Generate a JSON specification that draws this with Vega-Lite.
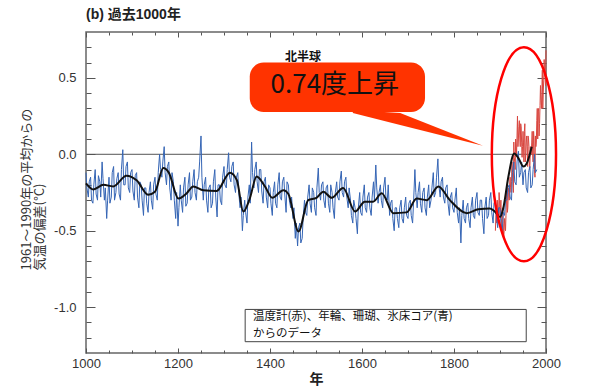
{
  "$schema": "https://vega.github.io/schema/vega-lite/v6.json",
  "width": 460,
  "height": 321,
  "autosize": {"type": "none"},
  "padding": {"left": 86, "top": 32, "right": 54, "bottom": 37},
  "title": {"text": "(b) 過去1000年", "anchor": "start", "frame": "group", "offset": 10, "fontSize": 14, "fontWeight": "bold", "font": "Liberation Sans, Noto Sans CJK JP", "color": "#222"},
  "config": {
    "view": {"stroke": "#666", "strokeWidth": 1.5},
    "axis": {"labelFont": "Liberation Sans, Noto Sans CJK JP", "labelFontSize": 13, "labelColor": "#333", "labelFlush": false, "tickColor": "#555", "tickWidth": 1, "domain": false, "grid": false, "titleFont": "Noto Sans CJK JP", "titleColor": "#333"}
  },
  "datasets": {
    "blue": [
      {"year":1000,"v":-0.12},{"year":1005,"v":-0.28},{"year":1010,"v":-0.15},{"year":1015,"v":-0.32},{"year":1020,"v":-0.10},{"year":1025,"v":-0.30},{"year":1030,"v":-0.18},{"year":1035,"v":-0.05},{"year":1040,"v":-0.30},{"year":1045,"v":-0.42},
      {"year":1050,"v":-0.15},{"year":1055,"v":-0.28},{"year":1060,"v":-0.08},{"year":1065,"v":-0.25},{"year":1070,"v":-0.12},{"year":1075,"v":-0.30},{"year":1080,"v":0.03},{"year":1085,"v":-0.20},{"year":1090,"v":-0.05},{"year":1095,"v":-0.25},
      {"year":1100,"v":-0.10},{"year":1105,"v":-0.30},{"year":1110,"v":-0.12},{"year":1115,"v":-0.35},{"year":1120,"v":-0.20},{"year":1125,"v":-0.40},{"year":1130,"v":-0.22},{"year":1135,"v":-0.38},{"year":1140,"v":-0.18},{"year":1145,"v":-0.36},
      {"year":1150,"v":-0.15},{"year":1155,"v":-0.30},{"year":1160,"v":0.0},{"year":1165,"v":-0.15},{"year":1170,"v":0.05},{"year":1175,"v":-0.20},{"year":1180,"v":-0.05},{"year":1185,"v":-0.30},{"year":1190,"v":-0.18},{"year":1195,"v":-0.42},
      {"year":1200,"v":-0.47},{"year":1205,"v":-0.20},{"year":1210,"v":-0.38},{"year":1215,"v":-0.15},{"year":1220,"v":-0.32},{"year":1225,"v":-0.12},{"year":1230,"v":-0.28},{"year":1235,"v":-0.10},{"year":1240,"v":-0.30},{"year":1245,"v":-0.15},
      {"year":1250,"v":0.12},{"year":1255,"v":-0.30},{"year":1260,"v":-0.15},{"year":1265,"v":-0.38},{"year":1270,"v":-0.20},{"year":1275,"v":-0.32},{"year":1280,"v":-0.10},{"year":1285,"v":-0.41},{"year":1290,"v":-0.20},{"year":1295,"v":-0.33},
      {"year":1300,"v":-0.08},{"year":1305,"v":-0.22},{"year":1310,"v":0.01},{"year":1315,"v":-0.18},{"year":1320,"v":-0.05},{"year":1325,"v":-0.25},{"year":1330,"v":-0.12},{"year":1335,"v":-0.35},{"year":1340,"v":-0.50},{"year":1345,"v":-0.30},
      {"year":1350,"v":-0.45},{"year":1355,"v":-0.20},{"year":1360,"v":0.08},{"year":1365,"v":-0.22},{"year":1370,"v":-0.05},{"year":1375,"v":-0.25},{"year":1380,"v":-0.10},{"year":1385,"v":-0.32},{"year":1390,"v":-0.15},{"year":1395,"v":-0.35},
      {"year":1400,"v":-0.22},{"year":1405,"v":-0.40},{"year":1410,"v":-0.18},{"year":1415,"v":-0.35},{"year":1420,"v":-0.12},{"year":1425,"v":-0.30},{"year":1430,"v":-0.15},{"year":1435,"v":-0.38},{"year":1440,"v":-0.20},{"year":1445,"v":-0.35},
      {"year":1450,"v":-0.42},{"year":1455,"v":-0.55},{"year":1460,"v":-0.60},{"year":1465,"v":-0.45},{"year":1470,"v":-0.55},{"year":1475,"v":-0.30},{"year":1480,"v":-0.40},{"year":1485,"v":-0.20},{"year":1490,"v":-0.38},{"year":1495,"v":-0.25},
      {"year":1500,"v":-0.40},{"year":1505,"v":-0.09},{"year":1510,"v":-0.30},{"year":1515,"v":-0.18},{"year":1520,"v":-0.35},{"year":1525,"v":-0.20},{"year":1530,"v":-0.38},{"year":1535,"v":-0.25},{"year":1540,"v":-0.42},{"year":1545,"v":-0.18},
      {"year":1550,"v":-0.30},{"year":1555,"v":-0.11},{"year":1560,"v":-0.28},{"year":1565,"v":-0.15},{"year":1570,"v":-0.35},{"year":1575,"v":-0.30},{"year":1580,"v":-0.45},{"year":1585,"v":-0.35},{"year":1590,"v":-0.52},{"year":1595,"v":-0.25},
      {"year":1600,"v":-0.40},{"year":1605,"v":-0.20},{"year":1610,"v":-0.38},{"year":1615,"v":-0.25},{"year":1620,"v":-0.40},{"year":1625,"v":-0.18},{"year":1630,"v":-0.07},{"year":1635,"v":-0.32},{"year":1640,"v":-0.20},{"year":1645,"v":-0.35},
      {"year":1650,"v":-0.15},{"year":1655,"v":-0.30},{"year":1660,"v":-0.40},{"year":1665,"v":-0.30},{"year":1670,"v":-0.50},{"year":1675,"v":-0.35},{"year":1680,"v":-0.48},{"year":1685,"v":-0.30},{"year":1690,"v":-0.45},{"year":1695,"v":-0.28},
      {"year":1700,"v":-0.42},{"year":1705,"v":-0.30},{"year":1710,"v":-0.45},{"year":1715,"v":-0.10},{"year":1720,"v":-0.35},{"year":1725,"v":-0.18},{"year":1730,"v":-0.38},{"year":1735,"v":-0.22},{"year":1740,"v":-0.40},{"year":1745,"v":-0.20},
      {"year":1750,"v":-0.30},{"year":1755,"v":-0.12},{"year":1760,"v":-0.25},{"year":1765,"v":-0.03},{"year":1770,"v":-0.28},{"year":1775,"v":-0.15},{"year":1780,"v":-0.32},{"year":1785,"v":-0.20},{"year":1790,"v":-0.40},{"year":1795,"v":-0.25},
      {"year":1800,"v":-0.38},{"year":1805,"v":-0.22},{"year":1810,"v":-0.45},{"year":1815,"v":-0.58},{"year":1820,"v":-0.30},{"year":1825,"v":-0.45},{"year":1830,"v":-0.32},{"year":1835,"v":-0.48},{"year":1840,"v":-0.28},{"year":1845,"v":-0.42},
      {"year":1850,"v":-0.25},{"year":1855,"v":-0.40},{"year":1860,"v":-0.30},{"year":1865,"v":-0.52},{"year":1870,"v":-0.28},{"year":1875,"v":-0.40},{"year":1880,"v":-0.25},{"year":1885,"v":-0.45},{"year":1890,"v":-0.30},{"year":1895,"v":-0.48},
      {"year":1900,"v":-0.35},{"year":1905,"v":-0.50},{"year":1910,"v":-0.40},{"year":1915,"v":-0.30},{"year":1920,"v":-0.20},{"year":1925,"v":-0.30},{"year":1930,"v":-0.05},{"year":1935,"v":-0.20},{"year":1940,"v":0.02},{"year":1945,"v":-0.12},
      {"year":1950,"v":-0.20},{"year":1955,"v":-0.10},{"year":1960,"v":-0.25},{"year":1965,"v":-0.08},{"year":1970,"v":-0.20},{"year":1975,"v":0.0},{"year":1980,"v":-0.10},
      {"year":1002,"v":-0.22},{"year":1007,"v":-0.18},{"year":1012,"v":-0.30},{"year":1017,"v":-0.20},{"year":1022,"v":-0.26},{"year":1027,"v":-0.14},{"year":1032,"v":-0.28},{"year":1037,"v":-0.16},{"year":1042,"v":-0.22},{"year":1047,"v":-0.30},
      {"year":1052,"v":-0.32},{"year":1057,"v":-0.12},{"year":1062,"v":-0.30},{"year":1067,"v":-0.16},{"year":1072,"v":-0.26},{"year":1077,"v":-0.10},{"year":1082,"v":-0.20},{"year":1087,"v":-0.08},{"year":1092,"v":-0.22},{"year":1097,"v":-0.12},
      {"year":1102,"v":-0.24},{"year":1107,"v":-0.14},{"year":1112,"v":-0.28},{"year":1117,"v":-0.18},{"year":1122,"v":-0.30},{"year":1127,"v":-0.22},{"year":1132,"v":-0.32},{"year":1137,"v":-0.25},{"year":1142,"v":-0.30},{"year":1147,"v":-0.20},
      {"year":1152,"v":-0.26},{"year":1157,"v":-0.12},{"year":1162,"v":-0.10},{"year":1167,"v":-0.05},{"year":1172,"v":-0.12},{"year":1177,"v":-0.08},{"year":1182,"v":-0.22},{"year":1187,"v":-0.12},{"year":1192,"v":-0.30},{"year":1197,"v":-0.25},
      {"year":1202,"v":-0.35},{"year":1207,"v":-0.30},{"year":1212,"v":-0.22},{"year":1217,"v":-0.34},{"year":1222,"v":-0.20},{"year":1227,"v":-0.30},{"year":1232,"v":-0.18},{"year":1237,"v":-0.25},{"year":1242,"v":-0.18},{"year":1247,"v":-0.05},
      {"year":1252,"v":-0.15},{"year":1257,"v":-0.20},{"year":1262,"v":-0.30},{"year":1267,"v":-0.22},{"year":1272,"v":-0.35},{"year":1277,"v":-0.18},{"year":1282,"v":-0.28},{"year":1287,"v":-0.20},{"year":1292,"v":-0.30},{"year":1297,"v":-0.15},
      {"year":1302,"v":-0.20},{"year":1307,"v":-0.10},{"year":1312,"v":-0.15},{"year":1317,"v":-0.08},{"year":1322,"v":-0.20},{"year":1327,"v":-0.15},{"year":1332,"v":-0.25},{"year":1337,"v":-0.28},{"year":1342,"v":-0.40},{"year":1347,"v":-0.38},
      {"year":1352,"v":-0.28},{"year":1357,"v":-0.32},{"year":1362,"v":-0.12},{"year":1367,"v":-0.10},{"year":1372,"v":-0.18},{"year":1377,"v":-0.10},{"year":1382,"v":-0.24},{"year":1387,"v":-0.18},{"year":1392,"v":-0.28},{"year":1397,"v":-0.20},
      {"year":1402,"v":-0.32},{"year":1407,"v":-0.25},{"year":1412,"v":-0.32},{"year":1417,"v":-0.20},{"year":1422,"v":-0.28},{"year":1427,"v":-0.18},{"year":1432,"v":-0.26},{"year":1437,"v":-0.18},{"year":1442,"v":-0.30},{"year":1447,"v":-0.28},
      {"year":1452,"v":-0.35},{"year":1457,"v":-0.45},{"year":1462,"v":-0.48},{"year":1467,"v":-0.58},{"year":1472,"v":-0.42},{"year":1477,"v":-0.38},{"year":1482,"v":-0.28},{"year":1487,"v":-0.32},{"year":1492,"v":-0.22},{"year":1497,"v":-0.35},
      {"year":1502,"v":-0.22},{"year":1507,"v":-0.25},{"year":1512,"v":-0.20},{"year":1517,"v":-0.30},{"year":1522,"v":-0.22},{"year":1527,"v":-0.32},{"year":1532,"v":-0.20},{"year":1537,"v":-0.35},{"year":1542,"v":-0.25},{"year":1547,"v":-0.28},
      {"year":1552,"v":-0.18},{"year":1557,"v":-0.25},{"year":1562,"v":-0.18},{"year":1567,"v":-0.28},{"year":1572,"v":-0.22},{"year":1577,"v":-0.40},{"year":1582,"v":-0.30},{"year":1587,"v":-0.42},{"year":1592,"v":-0.35},{"year":1597,"v":-0.38},
      {"year":1602,"v":-0.28},{"year":1607,"v":-0.35},{"year":1612,"v":-0.28},{"year":1617,"v":-0.35},{"year":1622,"v":-0.28},{"year":1627,"v":-0.30},{"year":1632,"v":-0.22},{"year":1637,"v":-0.25},{"year":1642,"v":-0.30},{"year":1647,"v":-0.22},
      {"year":1652,"v":-0.28},{"year":1657,"v":-0.20},{"year":1662,"v":-0.32},{"year":1667,"v":-0.42},{"year":1672,"v":-0.35},{"year":1677,"v":-0.42},{"year":1682,"v":-0.35},{"year":1687,"v":-0.42},{"year":1692,"v":-0.35},{"year":1697,"v":-0.40},
      {"year":1702,"v":-0.32},{"year":1707,"v":-0.40},{"year":1712,"v":-0.32},{"year":1717,"v":-0.25},{"year":1722,"v":-0.25},{"year":1727,"v":-0.32},{"year":1732,"v":-0.25},{"year":1737,"v":-0.35},{"year":1742,"v":-0.28},{"year":1747,"v":-0.35},
      {"year":1752,"v":-0.22},{"year":1757,"v":-0.28},{"year":1762,"v":-0.15},{"year":1767,"v":-0.20},{"year":1772,"v":-0.18},{"year":1777,"v":-0.28},{"year":1782,"v":-0.22},{"year":1787,"v":-0.32},{"year":1792,"v":-0.28},{"year":1797,"v":-0.35},
      {"year":1802,"v":-0.30},{"year":1807,"v":-0.38},{"year":1812,"v":-0.35},{"year":1817,"v":-0.40},{"year":1822,"v":-0.42},{"year":1827,"v":-0.35},{"year":1832,"v":-0.42},{"year":1837,"v":-0.35},{"year":1842,"v":-0.40},{"year":1847,"v":-0.30},
      {"year":1852,"v":-0.38},{"year":1857,"v":-0.30},{"year":1862,"v":-0.42},{"year":1867,"v":-0.35},{"year":1872,"v":-0.42},{"year":1877,"v":-0.30},{"year":1882,"v":-0.38},{"year":1887,"v":-0.32},{"year":1892,"v":-0.40},{"year":1897,"v":-0.35},
      {"year":1902,"v":-0.45},{"year":1907,"v":-0.38},{"year":1912,"v":-0.30},{"year":1917,"v":-0.22},{"year":1922,"v":-0.28},{"year":1927,"v":-0.12},{"year":1932,"v":-0.18},{"year":1937,"v":-0.05},{"year":1942,"v":-0.15},{"year":1947,"v":-0.05},
      {"year":1952,"v":-0.12},{"year":1957,"v":-0.22},{"year":1962,"v":-0.12},{"year":1967,"v":-0.22},{"year":1972,"v":-0.10},{"year":1977,"v":-0.12}
    ],
    "red": [
      {"year":1890,"v":-0.50},{"year":1892,"v":-0.38},{"year":1894,"v":-0.30},{"year":1896,"v":-0.45},{"year":1898,"v":-0.25},{"year":1900,"v":-0.40},{"year":1902,"v":-0.30},{"year":1904,"v":-0.48},{"year":1906,"v":-0.35},{"year":1908,"v":-0.55},
      {"year":1910,"v":-0.42},{"year":1912,"v":-0.50},{"year":1914,"v":-0.30},{"year":1916,"v":-0.38},{"year":1918,"v":-0.25},{"year":1920,"v":-0.30},{"year":1922,"v":-0.15},{"year":1924,"v":-0.25},{"year":1926,"v":-0.05},{"year":1928,"v":-0.15},
      {"year":1930,"v":0.08},{"year":1932,"v":-0.05},{"year":1934,"v":0.10},{"year":1936,"v":0.0},{"year":1938,"v":0.25},{"year":1940,"v":0.10},{"year":1942,"v":0.22},{"year":1944,"v":0.05},{"year":1946,"v":0.18},{"year":1948,"v":-0.02},
      {"year":1950,"v":0.15},{"year":1952,"v":-0.05},{"year":1954,"v":0.20},{"year":1956,"v":0.0},{"year":1958,"v":0.12},{"year":1960,"v":-0.08},{"year":1962,"v":0.10},{"year":1964,"v":-0.10},{"year":1966,"v":0.05},{"year":1968,"v":0.0},
      {"year":1970,"v":0.15},{"year":1972,"v":-0.05},{"year":1974,"v":0.10},{"year":1976,"v":-0.15},{"year":1978,"v":0.05},{"year":1980,"v":0.22},{"year":1982,"v":0.10},{"year":1984,"v":0.30},{"year":1986,"v":0.20},{"year":1988,"v":0.45},
      {"year":1990,"v":0.30},{"year":1992,"v":0.55},{"year":1994,"v":0.40},{"year":1996,"v":0.62},{"year":1998,"v":0.50},{"year":2000,"v":0.68},
      {"year":1891,"v":-0.40},{"year":1893,"v":-0.45},{"year":1895,"v":-0.35},{"year":1897,"v":-0.38},{"year":1899,"v":-0.30},{"year":1901,"v":-0.35},{"year":1903,"v":-0.42},{"year":1905,"v":-0.38},{"year":1907,"v":-0.45},{"year":1909,"v":-0.50},
      {"year":1911,"v":-0.45},{"year":1913,"v":-0.40},{"year":1915,"v":-0.20},{"year":1917,"v":-0.35},{"year":1919,"v":-0.22},{"year":1921,"v":-0.20},{"year":1923,"v":-0.22},{"year":1925,"v":-0.18},{"year":1927,"v":-0.12},{"year":1929,"v":-0.25},
      {"year":1931,"v":-0.02},{"year":1933,"v":-0.10},{"year":1935,"v":0.05},{"year":1937,"v":0.12},{"year":1939,"v":0.05},{"year":1941,"v":0.18},{"year":1943,"v":0.12},{"year":1945,"v":0.20},{"year":1947,"v":0.08},{"year":1949,"v":0.05},
      {"year":1951,"v":0.08},{"year":1953,"v":0.15},{"year":1955,"v":-0.05},{"year":1957,"v":0.08},{"year":1959,"v":0.05},{"year":1961,"v":0.12},{"year":1963,"v":0.05},{"year":1965,"v":-0.08},{"year":1967,"v":0.02},{"year":1969,"v":0.08},
      {"year":1971,"v":0.0},{"year":1973,"v":0.15},{"year":1975,"v":-0.10},{"year":1977,"v":0.12},{"year":1979,"v":0.08},{"year":1981,"v":0.30},{"year":1983,"v":0.28},{"year":1985,"v":0.12},{"year":1987,"v":0.32},{"year":1989,"v":0.35},
      {"year":1991,"v":0.40},{"year":1993,"v":0.30},{"year":1995,"v":0.48},{"year":1997,"v":0.52},{"year":1999,"v":0.45}
    ],
    "smooth": [
      {"year":1000,"v":-0.19},{"year":1016,"v":-0.23},{"year":1038,"v":-0.20},{"year":1059,"v":-0.21},{"year":1088,"v":-0.14},{"year":1110,"v":-0.17},{"year":1135,"v":-0.265},{"year":1150,"v":-0.245},{"year":1168,"v":-0.09},{"year":1180,"v":-0.12},
      {"year":1201,"v":-0.29},{"year":1219,"v":-0.255},{"year":1233,"v":-0.21},{"year":1255,"v":-0.235},{"year":1284,"v":-0.24},{"year":1313,"v":-0.12},{"year":1328,"v":-0.17},{"year":1342,"v":-0.375},{"year":1356,"v":-0.29},{"year":1371,"v":-0.145},
      {"year":1389,"v":-0.21},{"year":1405,"v":-0.285},{"year":1429,"v":-0.235},{"year":1440,"v":-0.26},{"year":1462,"v":-0.505},{"year":1483,"v":-0.30},{"year":1501,"v":-0.285},{"year":1516,"v":-0.245},{"year":1534,"v":-0.285},{"year":1559,"v":-0.22},
      {"year":1585,"v":-0.375},{"year":1606,"v":-0.31},{"year":1624,"v":-0.31},{"year":1643,"v":-0.255},{"year":1668,"v":-0.385},{"year":1697,"v":-0.38},{"year":1719,"v":-0.29},{"year":1741,"v":-0.30},{"year":1766,"v":-0.21},{"year":1791,"v":-0.30},
      {"year":1828,"v":-0.385},{"year":1853,"v":-0.36},{"year":1878,"v":-0.355},{"year":1889,"v":-0.375},{"year":1900,"v":-0.41},{"year":1907,"v":-0.355},{"year":1918,"v":-0.15},{"year":1931,"v":0.005},{"year":1940,"v":-0.025},{"year":1951,"v":-0.08},
      {"year":1958,"v":-0.06},{"year":1969,"v":0.05}
    ]
  },
  "layer": [
    {
      "data": {"values": [{"v": 0}]},
      "mark": {"type": "rule", "color": "#555", "strokeWidth": 1},
      "encoding": {
        "y": {"field": "v", "type": "quantitative", "scale": {"domain": [-1.3, 0.8], "nice": false, "zero": false}, "axis": null}
      }
    },
    {
      "data": {"name": "red"},
      "mark": {"type": "line", "color": "#d9463f", "strokeWidth": 1},
      "encoding": {
        "x": {"field": "year", "type": "quantitative", "scale": {"domain": [1000, 2000], "nice": false, "zero": false},
              "axis": {"orient": "bottom", "values": [1050,1100,1150,1250,1300,1350,1450,1500,1550,1650,1700,1750,1850,1900,1950], "labels": false, "tickSize": -3, "title": null}},
        "y": {"field": "v", "type": "quantitative", "scale": {"domain": [-1.3, 0.8], "nice": false, "zero": false},
              "axis": {"orient": "left", "values": [-1.2,-1.1,-0.9,-0.8,-0.7,-0.6,-0.4,-0.3,-0.2,-0.1,0.1,0.2,0.3,0.4,0.6,0.7], "labels": false, "tickSize": -5, "title": null}}
      }
    },
    {
      "data": {"name": "blue"},
      "mark": {"type": "line", "color": "#3565b5", "strokeWidth": 1},
      "encoding": {
        "x": {"field": "year", "type": "quantitative", "scale": {"domain": [1000, 2000], "nice": false, "zero": false},
              "axis": {"orient": "bottom", "values": [1000,1200,1400,1600,1800,2000], "format": "d", "tickSize": -5, "labelPadding": 9, "labelFlush": false, "title": "年", "titleFontSize": 14, "titleFontWeight": "bold", "titlePadding": 2, "titleColor": "#222"}},
        "y": {"field": "v", "type": "quantitative", "scale": {"domain": [-1.3, 0.8], "nice": false, "zero": false},
              "axis": {"orient": "left", "values": [-1, -0.5, 0, 0.5], "labelExpr": "replace(format(datum.value, '.1f'), '\u2212', '-')", "tickSize": -9, "labelPadding": 19,
                       "title": ["1961～1990年の平均からの", "気温の偏差(°C)"], "titleFontSize": 13, "titleFontWeight": "normal", "titleAngle": -90, "titleAlign": "left", "titleBaseline": "top", "titleLineHeight": 13, "titleX": -66, "titleY": 238}}
      }
    },
    {
      "data": {"name": "smooth"},
      "mark": {"type": "line", "color": "#111", "strokeWidth": 2, "interpolate": "monotone"},
      "encoding": {
        "x": {"field": "year", "type": "quantitative", "scale": {"domain": [1000, 2000], "nice": false, "zero": false},
              "axis": {"orient": "top", "values": [1000,1200,1400,1600,1800,2000], "labels": false, "tickSize": -5, "title": null}},
        "y": {"field": "v", "type": "quantitative", "scale": {"domain": [-1.3, 0.8], "nice": false, "zero": false},
              "axis": {"orient": "right", "values": [-1, -0.5, 0, 0.5], "labels": false, "tickSize": -9, "title": null}}
      }
    },
    {
      "data": {"values": [{"ex": 1952, "ey": 0.0}]},
      "mark": {"type": "point", "shape": "M 0 -1 C 0.1657 -1 0.3 -0.5523 0.3 0 C 0.3 0.5523 0.1657 1 0 1 C -0.1657 1 -0.3 0.5523 -0.3 0 C -0.3 -0.5523 -0.1657 -1 0 -1 Z", "size": 45796, "filled": false, "stroke": "#ff0000", "strokeWidth": 2.5, "opacity": 1, "strokeOpacity": 1},
      "encoding": {
        "x": {"field": "ex", "type": "quantitative", "scale": {"domain": [1000, 2000], "nice": false, "zero": false},
              "axis": {"orient": "top", "values": [1050,1100,1150,1250,1300,1350,1450,1500,1550,1650,1700,1750,1850,1900,1950], "labels": false, "tickSize": -3, "title": null}},
        "y": {"field": "ey", "type": "quantitative", "scale": {"domain": [-1.3, 0.8], "nice": false, "zero": false},
              "axis": {"orient": "right", "values": [-1.2,-1.1,-0.9,-0.8,-0.7,-0.6,-0.4,-0.3,-0.2,-0.1,0.1,0.2,0.3,0.4,0.6,0.7], "labels": false, "tickSize": -5, "title": null}}
      }
    },
    {
      "data": {"values": [{"tx": 1580, "ty": 0.29, "ty2": 0.27}, {"tx": 1683, "ty": 0.27, "ty2": 0.192}, {"tx": 1863, "ty": 0.056, "ty2": 0.056}]},
      "mark": {"type": "area", "color": "#ff3300", "opacity": 1, "orient": "vertical"},
      "encoding": {
        "x": {"field": "tx", "type": "quantitative", "scale": {"domain": [1000, 2000], "nice": false, "zero": false}, "axis": null},
        "y": {"field": "ty", "type": "quantitative", "scale": {"domain": [-1.3, 0.8], "nice": false, "zero": false}, "axis": null},
        "y2": {"field": "ty2"}
      }
    },
    {
      "data": {"values": [{"bx": 1356, "bx2": 1737, "by": 0.60, "by2": 0.277}]},
      "mark": {"type": "rect", "color": "#ff3300", "cornerRadius": 14, "opacity": 1},
      "encoding": {
        "x": {"field": "bx", "type": "quantitative", "scale": {"domain": [1000, 2000], "nice": false, "zero": false}, "axis": null},
        "x2": {"field": "bx2"},
        "y": {"field": "by", "type": "quantitative", "scale": {"domain": [-1.3, 0.8], "nice": false, "zero": false}, "axis": null},
        "y2": {"field": "by2"}
      }
    },
    {
      "data": {"values": [{"lx": 1541, "ly": 0.452, "label": "0.74度上昇"}]},
      "mark": {"type": "text", "font": "Noto Sans CJK JP", "fontSize": 26, "color": "#111", "align": "center", "baseline": "middle"},
      "encoding": {
        "x": {"field": "lx", "type": "quantitative", "scale": {"domain": [1000, 2000], "nice": false, "zero": false}, "axis": null},
        "y": {"field": "ly", "type": "quantitative", "scale": {"domain": [-1.3, 0.8], "nice": false, "zero": false}, "axis": null},
        "text": {"field": "label"}
      }
    },
    {
      "data": {"values": [{"lx": 1472, "ly": 0.636, "label": "北半球"}]},
      "mark": {"type": "text", "font": "Noto Sans CJK JP", "fontSize": 12, "fontWeight": "bold", "color": "#111", "align": "center", "baseline": "middle"},
      "encoding": {
        "x": {"field": "lx", "type": "quantitative", "scale": {"domain": [1000, 2000], "nice": false, "zero": false}, "axis": null},
        "y": {"field": "ly", "type": "quantitative", "scale": {"domain": [-1.3, 0.8], "nice": false, "zero": false}, "axis": null},
        "text": {"field": "label"}
      }
    },
    {
      "data": {"values": [{"bx": 1346, "bx2": 1957, "by": -1.015, "by2": -1.226}]},
      "mark": {"type": "rect", "fill": "#ffffff", "stroke": "#444", "strokeWidth": 1},
      "encoding": {
        "x": {"field": "bx", "type": "quantitative", "scale": {"domain": [1000, 2000], "nice": false, "zero": false}, "axis": null},
        "x2": {"field": "bx2"},
        "y": {"field": "by", "type": "quantitative", "scale": {"domain": [-1.3, 0.8], "nice": false, "zero": false}, "axis": null},
        "y2": {"field": "by2"}
      }
    },
    {
      "data": {"values": [{"lx": 1363, "ly": -1.064, "label": "温度計(赤)、年輪、珊瑚、氷床コア(青)"}, {"lx": 1363, "ly": -1.175, "label": "からのデータ"}]},
      "mark": {"type": "text", "font": "Noto Sans CJK JP", "fontSize": 11.5, "color": "#111", "align": "left", "baseline": "middle"},
      "encoding": {
        "x": {"field": "lx", "type": "quantitative", "scale": {"domain": [1000, 2000], "nice": false, "zero": false}, "axis": null},
        "y": {"field": "ly", "type": "quantitative", "scale": {"domain": [-1.3, 0.8], "nice": false, "zero": false}, "axis": null},
        "text": {"field": "label"}
      }
    }
  ],
  "resolve": {"axis": {"x": "independent", "y": "independent"}}
}
